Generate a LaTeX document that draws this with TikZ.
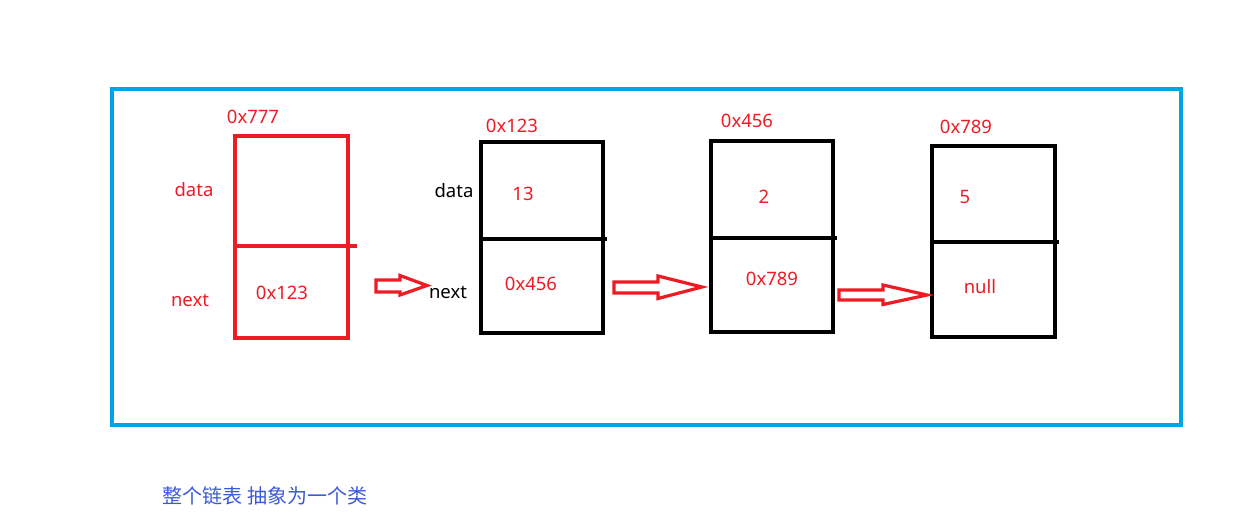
\documentclass[tikz,border=0pt]{standalone}
\usepackage{fontspec}
\setmainfont{Noto Sans}
\newfontfamily\cjk{Noto Sans CJK SC}
\definecolor{pred}{RGB}{237,28,36}
\definecolor{pblue}{RGB}{0,162,232}
\definecolor{tblue}{RGB}{60,90,215}
\begin{document}
\begin{tikzpicture}[x=1pt,y=-1pt,
  lbl/.style={font=\fontsize{18.5}{22}\selectfont, inner sep=0pt},
  rtxt/.style={lbl, text=pred},
  ktxt/.style={lbl, text=black},
  barrow/.style={draw=pred, line width=3.2pt, line join=miter}]
\useasboundingbox (0,0) rectangle (1239,531);
% frame
\node[draw=pblue, line width=3.2pt, minimum width=1069pt, minimum height=336pt, inner sep=0pt] (frame) at (646.5,257) {};
% box 1 (red)
\node[draw=pred, line width=3.2pt, minimum width=113pt, minimum height=202pt, inner sep=0pt] (b1) at (291.5,237) {};
\draw[pred, line width=3.2pt] (b1.west |- 0,246) coordinate (d1) -- (357,246) coordinate (d1e);
\node[rtxt] (a1) at (253,117) {0x777};
\node[rtxt] (l1) at (194,190) {data};
\node[rtxt] (n1) at (190,300) {next};
\node[rtxt] (v1) at (282,293) {0x123};
% box 2
\node[draw, line width=3.2pt, minimum width=122pt, minimum height=191pt, inner sep=0pt] (b2) at (542,237.5) {};
\draw[line width=3.2pt] (b2.west |- 0,239) -- (607,239);
\node[rtxt] (a2) at (512,126) {0x123};
\node[ktxt] (l2) at (454,191) {data};
\node[rtxt] (d2) at (523,194) {13};
\node[ktxt] (n2) at (448,292) {next};
\node[rtxt] (v2) at (531,284) {0x456};
% box 3
\node[draw, line width=3.2pt, minimum width=122pt, minimum height=191pt, inner sep=0pt] (b3) at (772,236.5) {};
\draw[line width=3.2pt] (b3.west |- 0,238) -- (837,238);
\node[rtxt] (a3) at (747,121) {0x456};
\node[rtxt] (d3) at (764,197) {2};
\node[rtxt] (v3) at (772,279) {0x789};
% box 4
\node[draw, line width=3.2pt, minimum width=123pt, minimum height=191pt, inner sep=0pt] (b4) at (993.5,241.5) {};
\draw[line width=3.2pt] (b4.west |- 0,242) -- (1059,242);
\node[rtxt] (a4) at (966,127) {0x789};
\node[rtxt] (d4) at (965,197) {5};
\node[rtxt] (v4) at (980,287) {null};
% block arrows
\draw[barrow] (376,280) -- (400,280) -- (400,275.5) -- (427,285.5) -- (400,295) -- (400,292) -- (376,292) -- cycle;
\draw[barrow] (614,282) -- (658,282) -- (658,276) -- (702,287) -- (658,298.5) -- (658,293) -- (614,293) -- cycle;
\draw[barrow] (839,290) -- (883,290) -- (883,285) -- (927,295) -- (883,304.5) -- (883,300) -- (839,300) -- cycle;
% caption
\node[lbl, text=tblue, font=\cjk\fontsize{20}{24}\selectfont] (cap) at (265,496) {整个链表 抽象为一个类};
\end{tikzpicture}
\end{document}
